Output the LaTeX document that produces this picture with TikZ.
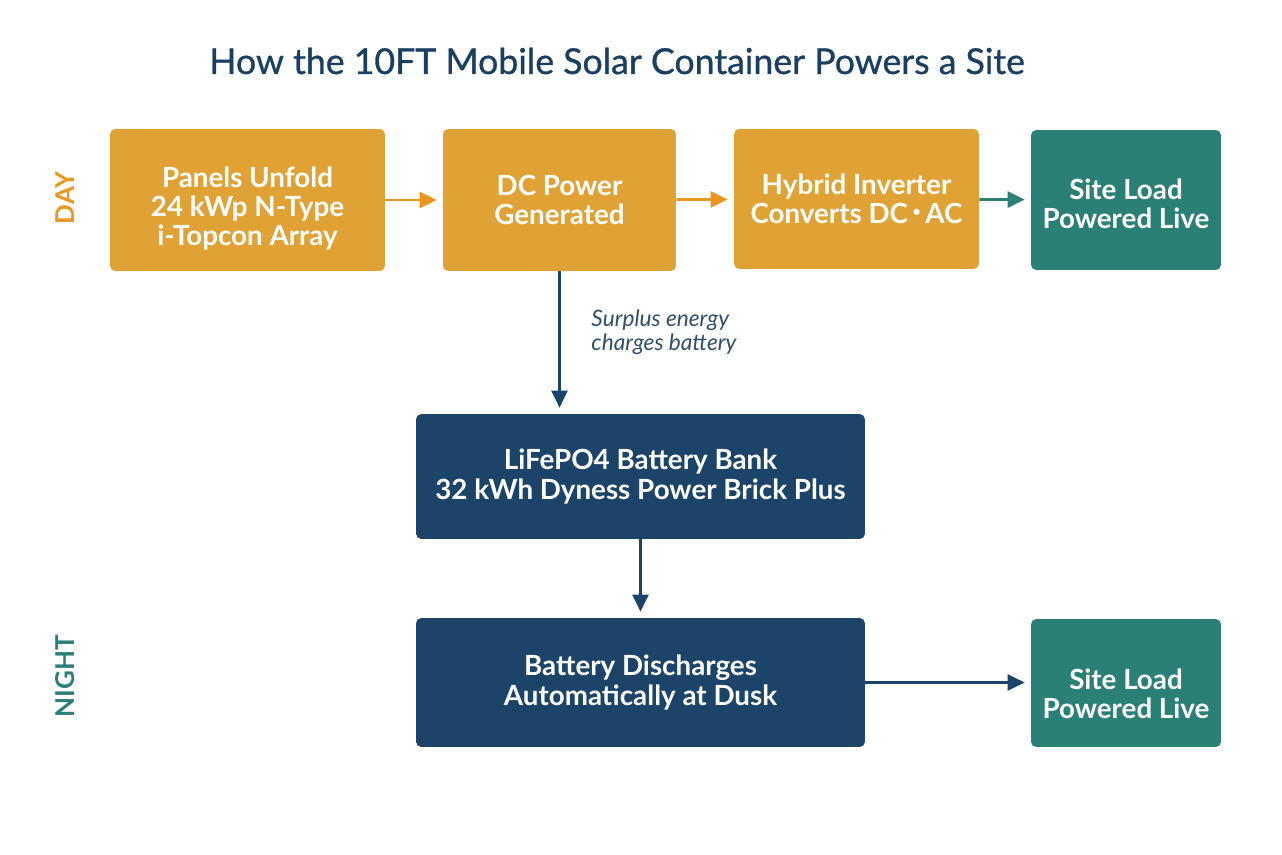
\documentclass[tikz,border=0pt]{standalone}
\usepackage{fontspec}
\setmainfont{Lato}
\newfontfamily\headfont[FakeBold=0.9]{Lato}
\usetikzlibrary{arrows.meta,positioning}
\definecolor{sunbox}{HTML}{E0A234}
\definecolor{sunline}{HTML}{E8971F}
\definecolor{sitebox}{HTML}{2A8074}
\definecolor{battbox}{HTML}{1B4468}
\definecolor{titleblue}{HTML}{1B3F60}
\definecolor{notetext}{HTML}{2F4E6C}

\begin{document}
\begin{tikzpicture}[x=0.02cm,y=-0.02cm,>={Triangle[length=0.34cm,width=0.32cm]},
  boxtext/.style={align=center,text=white,font=\fontsize{15.8}{16.6}\selectfont\bfseries},
  box/.style={rounded corners=3pt,inner sep=2pt,boxtext},
  daybox/.style={box,fill=sunbox},
  loadbox/.style={box,fill=sitebox,minimum width=3.8cm},
  storebox/.style={box,fill=battbox,minimum width=8.98cm},
  dayflow/.style={->,line width=1.6pt,sunline,shorten >=0.12cm},
  battflow/.style={->,line width=1.3pt,battbox,shorten >=0.12cm},
  phase/.style={rotate=90,font=\fontsize{14.8}{16}\selectfont\bfseries}]
\useasboundingbox (0,0) rectangle (1282,855);
\node[font=\headfont\fontsize{20.3}{24}\selectfont,text=titleblue] (title) at (617,61)
  {How the 10FT Mobile Solar Container Powers a Site};
% day row
\node[phase,text=sunline] (day) at (65,198) {DAY};
\node[daybox,minimum width=5.5cm,minimum height=2.84cm,
  label={[boxtext,yshift=-0.17cm]center:{Panels Unfold\\24 kWp N-Type\\i-Topcon Array}}]
  (panels) at (247.5,200) {};
\node[daybox,minimum width=4.66cm,minimum height=2.84cm] (dc) at (559.5,200)
  {DC Power\\Generated};
\node[daybox,minimum width=4.9cm,minimum height=2.8cm] (inverter) at (856.5,199)
  {Hybrid Inverter\\Converts DC\,\raisebox{0.28em}{\fontsize{8}{8}\selectfont•}\,AC};
\node[loadbox,minimum height=2.8cm,
  label={[boxtext,yshift=-0.07cm]center:{Site Load\\Powered Live}}]
  (loadday) at (1126,200) {};
\draw[dayflow] (panels) -- (dc);
\draw[dayflow] (dc) -- (inverter);
\draw[->,line width=1.6pt,sitebox,shorten >=0.12cm] (inverter) -- (loadday);
% storage
\node[storebox,minimum height=2.5cm] (bank) at (640.5,476.5)
  {LiFePO4 Battery Bank\\32 kWh Dyness Power Brick Plus};
\draw[battflow] (dc.south) -- (dc.south |- bank.north)
  node[pos=0.43,right=0.5cm,align=left,text=notetext,
    font=\fontsize{12.9}{13.6}\selectfont\itshape] (surplus)
  {Surplus energy\\charges battery};
% night row
\node[phase,text=sitebox] (night) at (65,676) {NIGHT};
\node[storebox,minimum height=2.58cm] (discharge) at (640.5,682.5)
  {Battery Discharges\\Automatically at Dusk};
\node[loadbox,minimum height=2.56cm,
  label={[boxtext,yshift=-0.21cm]center:{Site Load\\Powered Live}}]
  (loadnight) at (1126,683) {};
\draw[battflow] (bank) -- (discharge);
\draw[battflow] (discharge.east) -- (discharge.east -| loadnight.west);
\end{tikzpicture}
\end{document}
